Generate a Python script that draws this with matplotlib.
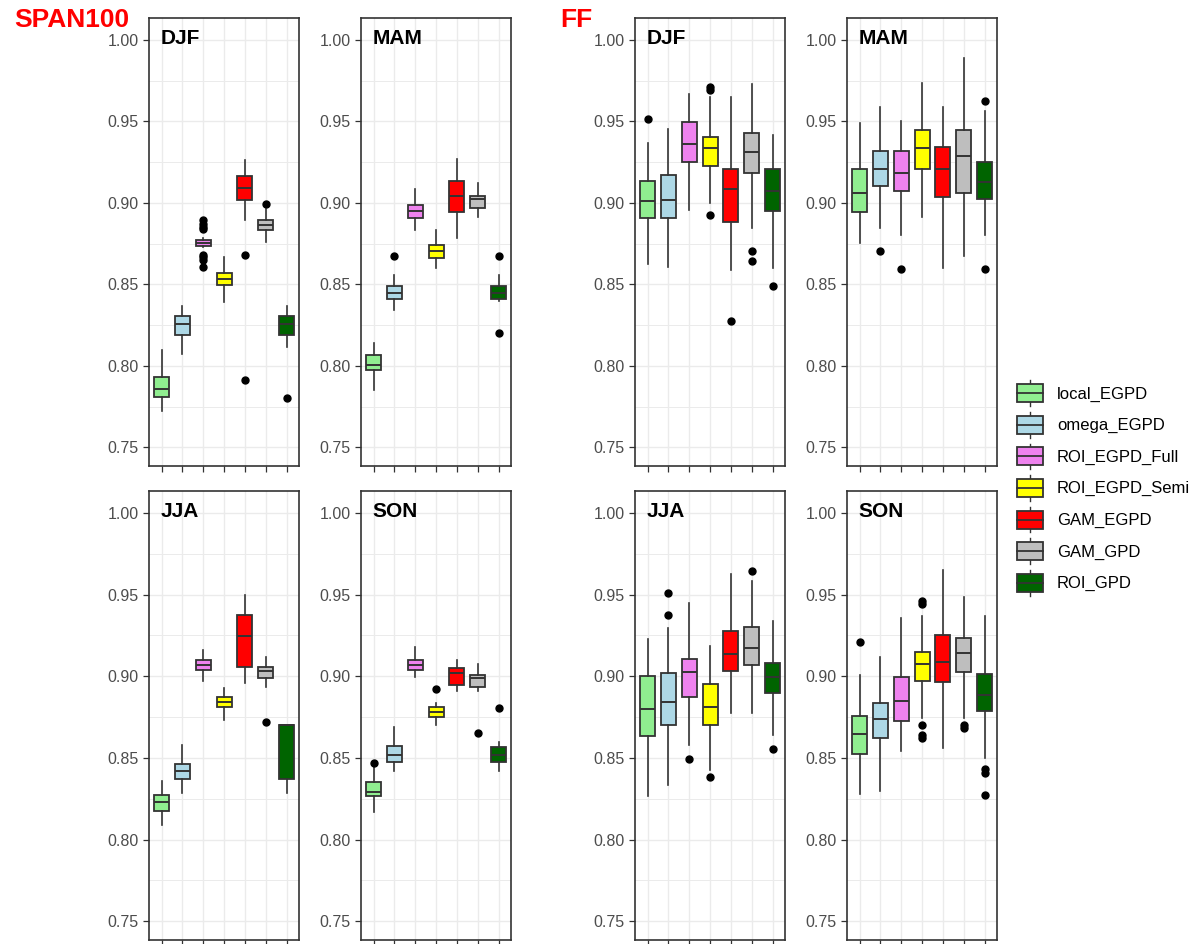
import matplotlib
matplotlib.use("Agg")
import matplotlib.pyplot as plt
from matplotlib.legend_handler import HandlerBase
from matplotlib.patches import Patch, Rectangle
from matplotlib.lines import Line2D
import numpy as np

plt.rcParams['font.family'] = ['Liberation Sans', 'DejaVu Sans']

MODELS = ['local_EGPD', 'omega_EGPD', 'ROI_EGPD_Full', 'ROI_EGPD_Semi',
          'GAM_EGPD', 'GAM_GPD', 'ROI_GPD']
COLORS = ['#90EE90', '#ADD8E6', '#EE82EE', '#FFFF00', '#FF0000', '#BEBEBE', '#006400']
SEASONS = ['DJF', 'MAM', 'JJA', 'SON']

# one row per model: whisker low, q1, median, q3, whisker high
SPAN_DJF = [[0.7725, 0.7810, 0.7857, 0.7931, 0.8096],
            [0.8072, 0.8192, 0.8254, 0.8303, 0.8366],
            [0.8730, 0.8738, 0.8756, 0.8775, 0.8785],
            [0.8391, 0.8495, 0.8531, 0.8572, 0.8668],
            [0.8897, 0.9016, 0.9093, 0.9163, 0.9265],
            [0.8762, 0.8832, 0.8862, 0.8893, 0.8964],
            [0.8113, 0.8192, 0.8254, 0.8303, 0.8366]]
SPAN_DJF_OUT = [[], [], [0.8893, 0.8870, 0.8850, 0.8838, 0.8680, 0.8665, 0.8650, 0.8607],
                [], [0.8679, 0.7913], [0.8993], [0.7804]]

SPAN_MAM = [[0.7851, 0.7972, 0.8004, 0.8066, 0.8143],
            [0.8342, 0.8409, 0.8450, 0.8489, 0.8556],
            [0.8832, 0.8907, 0.8950, 0.8985, 0.9087],
            [0.8601, 0.8662, 0.8703, 0.8740, 0.8836],
            [0.8787, 0.8942, 0.9042, 0.9136, 0.9271],
            [0.8913, 0.8969, 0.9022, 0.9042, 0.9122],
            [0.8395, 0.8409, 0.8450, 0.8489, 0.8556]]
SPAN_MAM_OUT = [[], [0.8672], [], [], [], [], [0.8672, 0.8203]]

SPAN_JJA = [[0.8092, 0.8173, 0.8233, 0.8276, 0.8361],
            [0.8286, 0.8373, 0.8418, 0.8461, 0.8582],
            [0.8969, 0.9039, 0.9071, 0.9100, 0.9161],
            [0.8735, 0.8812, 0.8843, 0.8871, 0.8927],
            [0.8959, 0.9055, 0.9245, 0.9376, 0.9498],
            [0.8935, 0.8990, 0.9033, 0.9057, 0.9118],
            [0.8286, 0.8373, 0.8704, 0.8704, 0.8704]]
SPAN_JJA_OUT = [[], [], [], [], [], [0.8720], []]

SPAN_SON = [[0.8169, 0.8265, 0.8290, 0.8351, 0.8450],
            [0.8422, 0.8476, 0.8520, 0.8571, 0.8690],
            [0.8996, 0.9041, 0.9071, 0.9100, 0.9178],
            [0.8700, 0.8753, 0.8780, 0.8814, 0.8837],
            [0.8912, 0.8949, 0.9020, 0.9049, 0.9102],
            [0.8912, 0.8933, 0.8990, 0.9006, 0.9076],
            [0.8422, 0.8476, 0.8520, 0.8569, 0.8596]]
SPAN_SON_OUT = [[0.8469], [], [], [0.8922], [], [0.8653], [0.8804]]

FF_DJF = [[0.8627, 0.8907, 0.9009, 0.9136, 0.9367],
          [0.8607, 0.8907, 0.9020, 0.9171, 0.9451],
          [0.8954, 0.9252, 0.9363, 0.9498, 0.9669],
          [0.8999, 0.9228, 0.9338, 0.9406, 0.9649],
          [0.8587, 0.8885, 0.9083, 0.9210, 0.9653],
          [0.8846, 0.9185, 0.9312, 0.9430, 0.9730],
          [0.8603, 0.8950, 0.9075, 0.9210, 0.9418]]
FF_DJF_OUT = [[0.9514], [], [], [0.9710, 0.9694, 0.8926], [0.8276], [0.8707, 0.8646], [0.8487]]

FF_MAM = [[0.8754, 0.8942, 0.9060, 0.9210, 0.9491],
          [0.8846, 0.9101, 0.9210, 0.9318, 0.9588],
          [0.8805, 0.9075, 0.9185, 0.9318, 0.9502],
          [0.8913, 0.9210, 0.9338, 0.9449, 0.9737],
          [0.8601, 0.9034, 0.9210, 0.9346, 0.9588],
          [0.8674, 0.9060, 0.9287, 0.9449, 0.9890],
          [0.8805, 0.9024, 0.9126, 0.9252, 0.9567]]
FF_MAM_OUT = [[], [0.8705], [0.8597], [], [], [], [0.9624, 0.8597]]

FF_JJA = [[0.8269, 0.8637, 0.8798, 0.9002, 0.9229],
          [0.8337, 0.8700, 0.8840, 0.9022, 0.9294],
          [0.8582, 0.8871, 0.9024, 0.9108, 0.9449],
          [0.8429, 0.8702, 0.8814, 0.8953, 0.9188],
          [0.8776, 0.9033, 0.9137, 0.9276, 0.9627],
          [0.8776, 0.9071, 0.9176, 0.9304, 0.9582],
          [0.8641, 0.8898, 0.8998, 0.9084, 0.9337]]
FF_JJA_OUT = [[], [0.9510, 0.9378], [0.8494], [0.8386], [], [0.9647], [0.8555]]

FF_SON = [[0.8282, 0.8527, 0.8645, 0.8755, 0.9010],
          [0.8296, 0.8620, 0.8739, 0.8837, 0.9116],
          [0.8541, 0.8729, 0.8849, 0.8996, 0.9357],
          [0.8745, 0.8973, 0.9076, 0.9149, 0.9367],
          [0.8559, 0.8965, 0.9086, 0.9251, 0.9653],
          [0.8745, 0.9027, 0.9143, 0.9233, 0.9484],
          [0.8500, 0.8788, 0.8888, 0.9016, 0.9367]]
FF_SON_OUT = [[0.9210], [], [], [0.9459, 0.9445, 0.8704, 0.8643, 0.8620], [],
              [0.8704, 0.8684], [0.8433, 0.8408, 0.8276]]

W, H = 1204, 944
EDGE = '#333333'


class BoxKeyHandler(HandlerBase):
    # ggplot-like boxplot legend key
    def create_artists(self, legend, orig_handle, xdescent, ydescent,
                       width, height, fontsize, trans):
        x0, y0 = -xdescent, -ydescent
        bh = height * 0.7
        by = y0 + (height - bh) / 2
        xm = x0 + width / 2
        arts = [
            Line2D([xm, xm], [y0, y0 + height], color=EDGE, lw=1.0, transform=trans),
            Rectangle((x0, by), width, bh, facecolor=orig_handle.get_facecolor(),
                      edgecolor=EDGE, lw=1.3, transform=trans),
            Line2D([x0, x0 + width], [by + bh / 2] * 2, color=EDGE, lw=1.3, transform=trans),
        ]
        return arts


def draw_panel(ax, rows, outs, label):
    stats = []
    for r, o in zip(rows, outs):
        stats.append(dict(whislo=r[0], q1=r[1], med=r[2], q3=r[3], whishi=r[4], fliers=o))
    bp = ax.bxp(stats, positions=np.arange(1, len(rows) + 1), widths=0.72,
                patch_artist=True, showcaps=False,
                boxprops=dict(edgecolor=EDGE, linewidth=1.3),
                medianprops=dict(color=EDGE, linewidth=1.4),
                whiskerprops=dict(color=EDGE, linewidth=1.2),
                flierprops=dict(marker='o', markerfacecolor='black',
                                markeredgecolor='black', markersize=5))
    for patch, c in zip(bp['boxes'], COLORS):
        patch.set_facecolor(c)
    ax.set_xlim(0.4, 7.6)
    ax.set_ylim(0.7385, 1.0135)
    ax.set_yticks(np.arange(0.75, 1.001, 0.05))
    ax.set_yticks(np.arange(0.775, 1.0, 0.05), minor=True)
    ax.set_yticklabels(['%.2f' % v for v in np.arange(0.75, 1.001, 0.05)])
    ax.set_xticks(np.arange(1, 8))
    ax.set_xticklabels([])
    ax.grid(True, which='major', color='#EBEBEB', lw=1.0)
    ax.grid(True, which='minor', axis='y', color='#EBEBEB', lw=0.7)
    ax.set_axisbelow(True)
    ax.tick_params(axis='both', which='major', color=EDGE, length=4, width=0.9,
                   labelsize=11.5, labelcolor='#4D4D4D')
    ax.tick_params(axis='y', which='minor', length=0)
    for s in ax.spines.values():
        s.set_color(EDGE)
        s.set_linewidth(1.2)
    ax.text(0.075, 0.955, label, transform=ax.transAxes, fontsize=15,
            fontweight='bold', va='center', ha='left')


fig = plt.figure(figsize=(W / 100, H / 100), dpi=100)

col_left = [149, 361, 635, 847]
row_top = [18, 491]
row_h = [448, 449]
panels = [
    (0, 0, SPAN_DJF, SPAN_DJF_OUT, SEASONS[0]),
    (1, 0, SPAN_MAM, SPAN_MAM_OUT, SEASONS[1]),
    (0, 1, SPAN_JJA, SPAN_JJA_OUT, SEASONS[2]),
    (1, 1, SPAN_SON, SPAN_SON_OUT, SEASONS[3]),
    (2, 0, FF_DJF, FF_DJF_OUT, SEASONS[0]),
    (3, 0, FF_MAM, FF_MAM_OUT, SEASONS[1]),
    (2, 1, FF_JJA, FF_JJA_OUT, SEASONS[2]),
    (3, 1, FF_SON, FF_SON_OUT, SEASONS[3]),
]
for ci, ri, rows, outs, lab in panels:
    left = col_left[ci] / W
    bottom = 1 - (row_top[ri] + row_h[ri]) / H
    ax = fig.add_axes([left, bottom, 150 / W, row_h[ri] / H])
    draw_panel(ax, rows, outs, lab)

fig.text(14 / W, 1 - 20 / H, 'SPAN100', color='red', fontsize=19,
         fontweight='bold', va='center', ha='left')
fig.text(560 / W, 1 - 20 / H, 'FF', color='red', fontsize=19,
         fontweight='bold', va='center', ha='left')

handles = [Patch(facecolor=c, edgecolor=EDGE) for c in COLORS]
fig.legend(handles, MODELS, handler_map={Patch: BoxKeyHandler()},
           loc='center left', bbox_to_anchor=(1017 / W, 1 - 488 / H),
           frameon=False, fontsize=12, handlelength=1.55, handleheight=2.0,
           labelspacing=0.35, handletextpad=0.85, borderpad=0, borderaxespad=0)

fig.savefig('out.png', dpi=100)
